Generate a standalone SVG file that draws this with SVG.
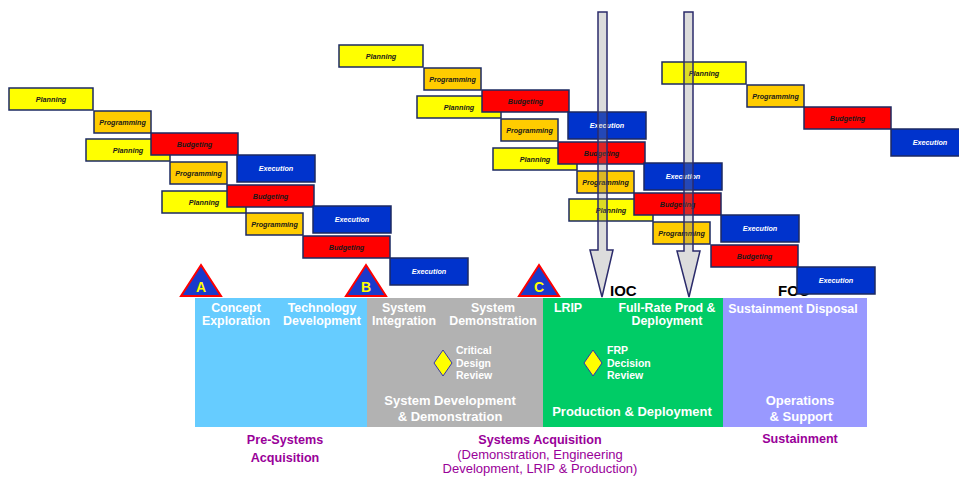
<svg xmlns="http://www.w3.org/2000/svg" width="959" height="477" viewBox="0 0 959 477">
<style>
.box{stroke:#1c2a62;stroke-width:1.5}
.pl{fill:#ffff00}.pr{fill:#ffcc00}.bu{fill:#ff0000}.ex{fill:#0033cc}
.bl{font-family:"Liberation Sans",Arial,sans-serif;font-size:7.2px;font-weight:bold;font-style:italic;text-anchor:middle;fill:#1a1a1a}
.wl{font-family:"Liberation Sans",Arial,sans-serif;font-size:7.2px;font-weight:bold;font-style:italic;text-anchor:middle;fill:#ffffff}
.ph{font-family:"Liberation Sans",Arial,sans-serif;font-size:12.4px;font-weight:bold;fill:#ffffff;text-anchor:middle}
.phb{font-family:"Liberation Sans",Arial,sans-serif;font-size:13px;font-weight:bold;fill:#ffffff;text-anchor:middle}
.rv{font-family:"Liberation Sans",Arial,sans-serif;font-size:10.5px;font-weight:bold;fill:#ffffff}
.lab{font-family:"Liberation Sans",Arial,sans-serif;font-size:12.6px;font-weight:bold;fill:#990099;text-anchor:middle}
.labr{font-family:"Liberation Sans",Arial,sans-serif;font-size:13px;fill:#990099;text-anchor:middle}
.ms{font-family:"Liberation Sans",Arial,sans-serif;font-size:15px;font-weight:bold;fill:#000000}
.tri{fill:#1a3acc;stroke:#ff0000;stroke-width:2;stroke-linejoin:miter}
.tl{font-family:"Liberation Sans",Arial,sans-serif;font-size:14px;font-weight:bold;fill:#ffff00;text-anchor:middle}
.dia{fill:#ffff00;stroke:#3333aa;stroke-width:1}
.arr{fill:#808080;fill-opacity:0.28;stroke:#2b2b6b;stroke-width:1.5}
</style>

<!-- phase bars -->
<g id="phase-pre">
<rect x="195" y="298" width="172" height="129" fill="#66ccff"/>
<text class="ph" x="236" y="312">Concept</text>
<text class="ph" x="236" y="325">Exploration</text>
<text class="ph" x="322" y="312">Technology</text>
<text class="ph" x="322" y="325">Development</text>
</g>
<g id="phase-sdd">
<rect x="367" y="298" width="176" height="129" fill="#b2b2b2"/>
<text class="ph" x="404" y="312">System</text>
<text class="ph" x="404" y="325">Integration</text>
<text class="ph" x="493" y="312">System</text>
<text class="ph" x="493" y="325">Demonstration</text>
<text class="phb" x="450" y="405">System Development</text>
<text class="phb" x="450" y="421">&amp; Demonstration</text>
</g>
<g id="cdr">
<polygon class="dia" points="443,350 452,363 443,376 434,363"/>
<text class="rv" x="456" y="354">Critical</text>
<text class="rv" x="456" y="367">Design</text>
<text class="rv" x="456" y="379">Review</text>
</g>
<g id="phase-pd">
<rect x="543" y="298" width="180" height="129" fill="#00cc66"/>
<text class="ph" x="568" y="312">LRIP</text>
<text class="ph" x="667" y="312">Full-Rate Prod &amp;</text>
<text class="ph" x="667" y="325">Deployment</text>
<text class="phb" x="632" y="416">Production &amp; Deployment</text>
</g>
<g id="frp">
<polygon class="dia" points="593,350 602,363 593,376 584,363"/>
<text class="rv" x="607" y="354">FRP</text>
<text class="rv" x="607" y="367">Decision</text>
<text class="rv" x="607" y="379">Review</text>
</g>
<g id="phase-os">
<rect x="723" y="298" width="144" height="129" fill="#9999ff"/>
<text class="ph" x="793" y="313">Sustainment  Disposal</text>
<text class="phb" x="800" y="405">Operations</text>
<text class="phb" x="801" y="421">&amp; Support</text>
</g>

<!-- milestones -->
<g id="ms-a"><polygon class="tri" points="201,265 221,296 181,296"/><text class="tl" x="201" y="292">A</text></g>
<g id="ms-b"><polygon class="tri" points="366,265 386,296 346,296"/><text class="tl" x="366" y="292">B</text></g>
<g id="ms-c"><polygon class="tri" points="539,265 559,296 519,296"/><text class="tl" x="539" y="292">C</text></g>
<g id="ioc"><text class="ms" x="610" y="296">IOC</text></g>
<g id="foc"><text class="ms" x="778" y="296">FOC</text></g>

<!-- bottom labels -->
<g id="lbl-pre">
<text class="lab" x="285" y="444">Pre-Systems</text>
<text class="lab" x="285" y="462">Acquisition</text>
</g>
<g id="lbl-sa">
<text class="lab" x="540" y="444">Systems Acquisition</text>
<text class="labr" x="540" y="459">(Demonstration, Engineering</text>
<text class="labr" x="540" y="473">Development, LRIP &amp; Production)</text>
</g>
<g id="lbl-sus">
<text class="lab" x="800" y="443">Sustainment</text>
</g>

<!-- Planning boxes -->
<g id="pl1a"><rect class="box pl" x="9" y="88" width="84" height="22"/><text class="bl" x="51" y="102">Planning</text></g>
<g id="pl1b"><rect class="box pl" x="86" y="139" width="84" height="22"/><text class="bl" x="128" y="153">Planning</text></g>
<g id="pl1c"><rect class="box pl" x="162" y="191" width="84" height="22"/><text class="bl" x="204" y="205">Planning</text></g>
<g id="pl2a"><rect class="box pl" x="339" y="45" width="84" height="22"/><text class="bl" x="381" y="59">Planning</text></g>
<g id="pl2b"><rect class="box pl" x="417" y="96" width="84" height="22"/><text class="bl" x="459" y="110">Planning</text></g>
<g id="pl2c"><rect class="box pl" x="493" y="148" width="84" height="22"/><text class="bl" x="535" y="162">Planning</text></g>
<g id="pl2d"><rect class="box pl" x="569" y="199" width="84" height="22"/><text class="bl" x="611" y="213">Planning</text></g>
<g id="pl3a"><rect class="box pl" x="662" y="62" width="84" height="22"/><text class="bl" x="704" y="76">Planning</text></g>

<!-- Programming boxes -->
<g id="pr1a"><rect class="box pr" x="94" y="111" width="57" height="22"/><text class="bl" x="122.5" y="125">Programming</text></g>
<g id="pr1b"><rect class="box pr" x="170" y="162" width="57" height="22"/><text class="bl" x="198.5" y="176">Programming</text></g>
<g id="pr1c"><rect class="box pr" x="246" y="213" width="57" height="22"/><text class="bl" x="274.5" y="227">Programming</text></g>
<g id="pr2a"><rect class="box pr" x="424" y="68" width="57" height="22"/><text class="bl" x="452.5" y="82">Programming</text></g>
<g id="pr2b"><rect class="box pr" x="501" y="119" width="57" height="22"/><text class="bl" x="529.5" y="133">Programming</text></g>
<g id="pr2c"><rect class="box pr" x="577" y="171" width="57" height="22"/><text class="bl" x="605.5" y="185">Programming</text></g>
<g id="pr2d"><rect class="box pr" x="653" y="222" width="57" height="22"/><text class="bl" x="681.5" y="236">Programming</text></g>
<g id="pr3a"><rect class="box pr" x="747" y="85" width="57" height="22"/><text class="bl" x="775.5" y="99">Programming</text></g>

<!-- Budgeting boxes -->
<g id="bu1a"><rect class="box bu" x="151" y="133" width="87" height="22"/><text class="bl" x="194.5" y="147">Budgeting</text></g>
<g id="bu1b"><rect class="box bu" x="227" y="185" width="87" height="22"/><text class="bl" x="270.5" y="199">Budgeting</text></g>
<g id="bu1c"><rect class="box bu" x="303" y="236" width="87" height="22"/><text class="bl" x="346.5" y="250">Budgeting</text></g>
<g id="bu2a"><rect class="box bu" x="482" y="90" width="87" height="22"/><text class="bl" x="525.5" y="104">Budgeting</text></g>
<g id="bu2b"><rect class="box bu" x="558" y="142" width="87" height="22"/><text class="bl" x="601.5" y="156">Budgeting</text></g>
<g id="bu2c"><rect class="box bu" x="634" y="193" width="87" height="22"/><text class="bl" x="677.5" y="207">Budgeting</text></g>
<g id="bu2d"><rect class="box bu" x="711" y="245" width="87" height="22"/><text class="bl" x="754.5" y="259">Budgeting</text></g>
<g id="bu3a"><rect class="box bu" x="804" y="107" width="87" height="22"/><text class="bl" x="847.5" y="121">Budgeting</text></g>

<!-- Execution boxes -->
<g id="ex1a"><rect class="box ex" x="237" y="155" width="78" height="27"/><text class="wl" x="276" y="171">Execution</text></g>
<g id="ex1b"><rect class="box ex" x="313" y="206" width="78" height="27"/><text class="wl" x="352" y="222">Execution</text></g>
<g id="ex1c"><rect class="box ex" x="390" y="258" width="78" height="27"/><text class="wl" x="429" y="274">Execution</text></g>
<g id="ex2a"><rect class="box ex" x="568" y="112" width="78" height="27"/><text class="wl" x="607" y="128">Execution</text></g>
<g id="ex2b"><rect class="box ex" x="644" y="163" width="78" height="27"/><text class="wl" x="683" y="179">Execution</text></g>
<g id="ex2c"><rect class="box ex" x="721" y="215" width="78" height="27"/><text class="wl" x="760" y="231">Execution</text></g>
<g id="ex2d"><rect class="box ex" x="797" y="267" width="78" height="27"/><text class="wl" x="836" y="283">Execution</text></g>
<g id="ex3a"><rect class="box ex" x="891" y="129" width="78" height="27"/><text class="wl" x="930" y="145">Execution</text></g>

<!-- connectors: milestone arrows -->
<g id="connectors">
<path class="arr" d="M598,12 H607 V250 H613 L602,297 L590,250 H598 Z"/>
<path class="arr" d="M684,12 H693 V251 H700 L689,297 L677,251 H684 Z"/>
</g>
</svg>
